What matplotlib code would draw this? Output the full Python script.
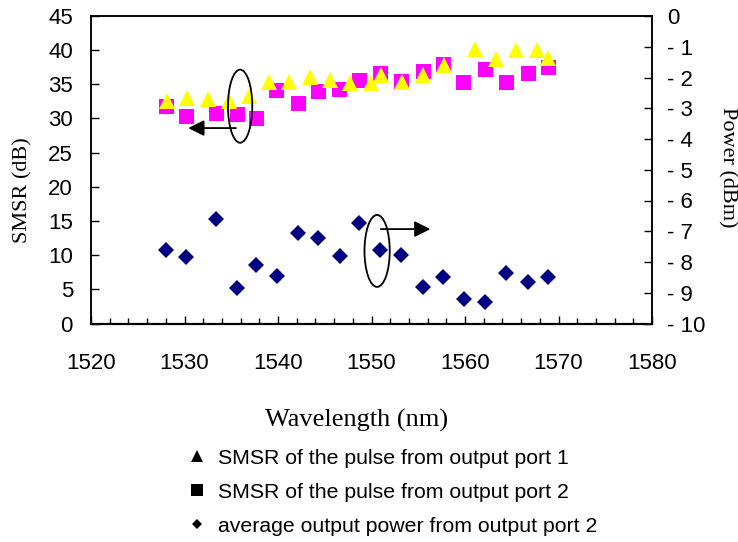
import matplotlib.pyplot as plt
from matplotlib.lines import Line2D
from matplotlib.patches import Ellipse
from matplotlib.ticker import MultipleLocator
import numpy as np

# SMSR of the pulse from output port 1 (triangles)
wl_port1 = [1528.1, 1530.3, 1532.5, 1534.8, 1536.9, 1539.0, 1541.2, 1543.4, 1545.6, 1547.7,
            1549.9, 1551.0, 1553.3, 1555.5, 1557.8, 1561.1, 1563.3, 1565.5, 1567.7, 1568.9]
smsr_port1 = [32.5, 33.0, 32.8, 32.5, 33.3, 35.3, 35.4, 36.1, 35.6, 35.2,
              35.2, 36.4, 35.3, 36.4, 37.9, 40.1, 38.7, 40.0, 40.0, 38.8]

# SMSR of the pulse from output port 2 (squares)
wl_port2 = [1528.0, 1530.2, 1533.4, 1535.6, 1537.7, 1539.8, 1542.1, 1544.3, 1546.5, 1548.7,
            1550.9, 1553.2, 1555.5, 1557.7, 1559.8, 1562.1, 1564.4, 1566.7, 1568.9]
smsr_port2 = [31.8, 30.4, 30.8, 30.6, 30.1, 34.2, 32.3, 34.0, 34.3, 35.6,
              36.6, 35.5, 36.9, 38.0, 35.3, 37.2, 35.4, 36.6, 37.6]

# average output power from output port 2 (diamonds, right axis)
wl_power = [1528.0, 1530.2, 1533.4, 1535.6, 1537.7, 1539.9, 1542.1, 1544.3, 1546.6, 1548.7,
            1550.9, 1553.2, 1555.5, 1557.6, 1559.9, 1562.1, 1564.4, 1566.7, 1568.9]
power = [-7.61, -7.83, -6.61, -8.86, -8.10, -8.46, -7.05, -7.23, -7.80, -6.74,
         -7.61, -7.77, -8.80, -8.48, -9.21, -9.29, -8.35, -8.64, -8.48]

legend_labels = ["SMSR of the pulse from output port 1",
                 "SMSR of the pulse from output port 2",
                 "average output power from output port 2"]

W, H = 738, 542
fig = plt.figure(figsize=(W / 100, H / 100), dpi=100)
left, right, top, bottom = 91, 652, 16, 323.5
ax = fig.add_axes([left / W, 1 - bottom / H, (right - left) / W, (bottom - top) / H])
ax2 = ax.twinx()

sans = "Liberation Sans"
serif = "Liberation Serif"

ax.plot(wl_port2, smsr_port2, ls="none", marker="s", ms=10.8, color="#FF00FF", mew=0, zorder=3)
ax.plot(wl_port1, smsr_port1, ls="none", marker="^", ms=11.5, color="#FFFF00", mew=0, zorder=4)
ax2.plot(wl_power, power, ls="none", marker="D", ms=8.0, color="#000080", mew=0)

ax.set_xlim(1520, 1580)
ax.set_ylim(0, 45)
ax2.set_ylim(-10, 0)
ax.xaxis.set_major_locator(MultipleLocator(10))
ax.xaxis.set_minor_locator(MultipleLocator(2))
ax.yaxis.set_major_locator(MultipleLocator(5))
ax2.set_yticks(np.arange(-10, 1, 1))
ax2.set_yticklabels(["0" if v == 0 else "- %d" % abs(v) for v in np.arange(-10, 1, 1)])

ax.tick_params(axis="x", which="major", direction="in", length=6, width=1, pad=21, top=False)
ax.tick_params(axis="x", which="minor", direction="in", length=4, width=1, top=False)
ax.tick_params(axis="y", direction="in", length=6, width=1, pad=13)
ax2.tick_params(axis="y", direction="in", length=6, width=1, pad=11)
for lab in ax.get_xticklabels() + ax.get_yticklabels() + ax2.get_yticklabels():
    lab.set_fontfamily(sans)
    lab.set_fontsize(16)

for a in (ax, ax2):
    for sp in a.spines.values():
        sp.set_linewidth(1.1)
ax.spines["bottom"].set_linewidth(1.6)

# annotation ellipses and arrows
ax.add_patch(Ellipse((1535.95, 31.8), 2.6, 10.7, fill=False, lw=1.3, ec="black", zorder=5))
ax.annotate("", xy=(1530.4, 28.6), xytext=(1535.5, 28.6),
            arrowprops=dict(arrowstyle="-|>,head_length=0.6,head_width=0.3", mutation_scale=16,
                            color="black", lw=1.3, shrinkA=0, shrinkB=0), zorder=5)
ax2.add_patch(Ellipse((1550.6, -7.64), 2.7, 2.34, fill=False, lw=1.3, ec="black", zorder=5))
ax2.annotate("", xy=(1556.3, -6.93), xytext=(1551.0, -6.93),
             arrowprops=dict(arrowstyle="-|>,head_length=0.6,head_width=0.3", mutation_scale=16,
                             color="black", lw=1.3, shrinkA=0, shrinkB=0), zorder=5)

fig.text(23 / W, 1 - 190 / H, "SMSR (dB)", rotation=90, ha="center", va="center",
         family=serif, fontsize=16)
fig.text(727 / W, 1 - 167 / H, "Power (dBm)", rotation=270, ha="center", va="center",
         family=serif, fontsize=16)
fig.text(357 / W, 1 - 420 / H, "Wavelength (nm)", ha="center", va="center",
         family=serif, fontsize=19)

handles = [
    Line2D([], [], ls="none", marker="^", ms=8, color="black", mew=0),
    Line2D([], [], ls="none", marker="s", ms=8.5, color="black", mew=0),
    Line2D([], [], ls="none", marker="D", ms=5, color="black", mew=0),
]
fig.legend(handles, legend_labels, loc="upper left", bbox_to_anchor=(186.5 / W, 1 - 448.5 / H),
           frameon=False, handlelength=1.0, handletextpad=0.49, labelspacing=0.71,
           borderaxespad=0, borderpad=0, prop={"family": sans, "size": 15.3})

fig.savefig("out.png", dpi=100)
